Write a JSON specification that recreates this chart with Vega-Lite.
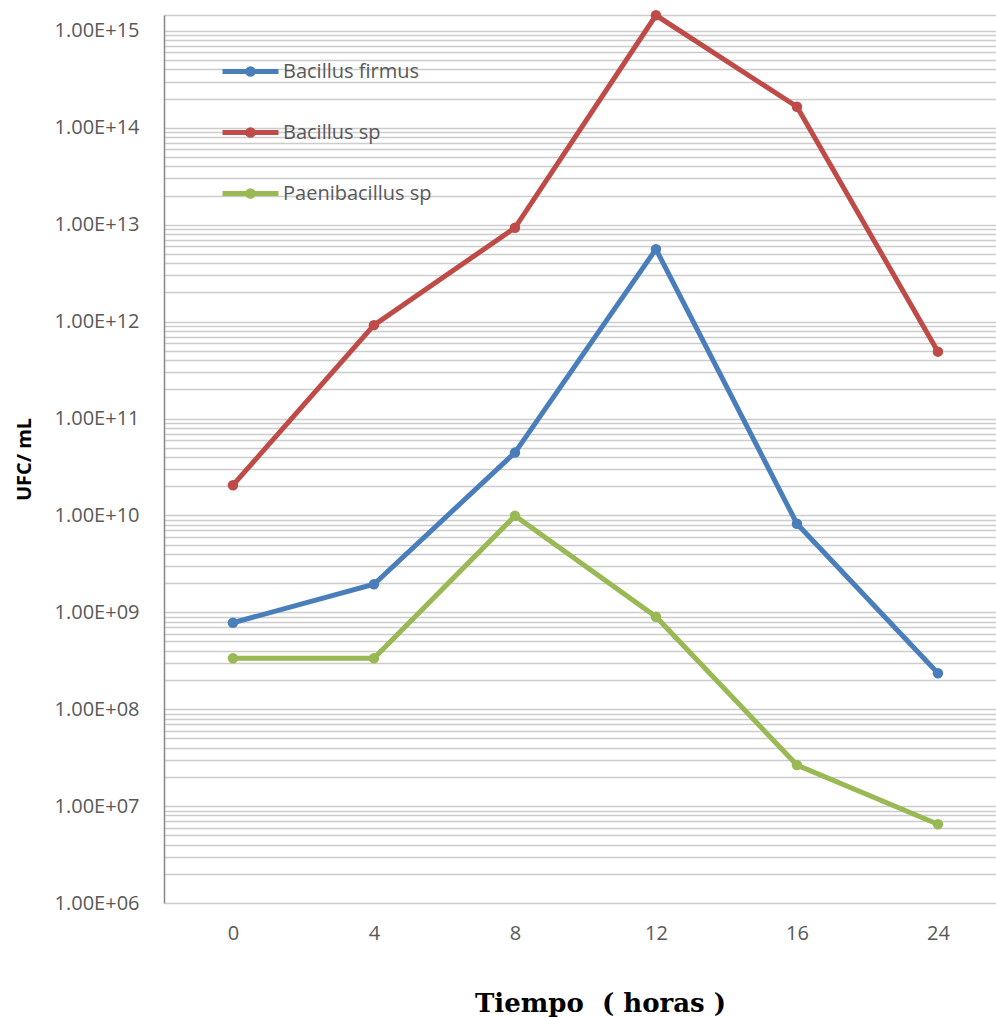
{
  "$schema": "https://vega.github.io/schema/vega-lite/v6.json",
  "width": 832,
  "height": 888,
  "autosize": {"type": "none"},
  "padding": {"left": 164, "top": 15, "right": 0, "bottom": 114},
  "background": "white",
  "config": {"view": {"stroke": null}, "font": "Open Sans"},
  "data": {
    "values": [
      {"hora": 0, "especie": "Bacillus firmus", "ufc": 7.8e8},
      {"hora": 4, "especie": "Bacillus firmus", "ufc": 1.95e9},
      {"hora": 8, "especie": "Bacillus firmus", "ufc": 4.45e10},
      {"hora": 12, "especie": "Bacillus firmus", "ufc": 5.6e12},
      {"hora": 16, "especie": "Bacillus firmus", "ufc": 8.2e9},
      {"hora": 24, "especie": "Bacillus firmus", "ufc": 2.35e8},
      {"hora": 0, "especie": "Bacillus sp", "ufc": 2.05e10},
      {"hora": 4, "especie": "Bacillus sp", "ufc": 9.2e11},
      {"hora": 8, "especie": "Bacillus sp", "ufc": 9.3e12},
      {"hora": 12, "especie": "Bacillus sp", "ufc": 1.45e15},
      {"hora": 16, "especie": "Bacillus sp", "ufc": 1.65e14},
      {"hora": 24, "especie": "Bacillus sp", "ufc": 4.9e11},
      {"hora": 0, "especie": "Paenibacillus sp", "ufc": 3.35e8},
      {"hora": 4, "especie": "Paenibacillus sp", "ufc": 3.35e8},
      {"hora": 8, "especie": "Paenibacillus sp", "ufc": 9.9e9},
      {"hora": 12, "especie": "Paenibacillus sp", "ufc": 9.0e8},
      {"hora": 16, "especie": "Paenibacillus sp", "ufc": 2.65e7},
      {"hora": 24, "especie": "Paenibacillus sp", "ufc": 6.5e6}
    ]
  },
  "mark": {"type": "line", "strokeWidth": 5, "point": {"size": 110, "filled": true}},
  "encoding": {
    "x": {
      "field": "hora",
      "type": "ordinal",
      "scale": {"type": "point", "padding": 0.4504, "align": 0.543},
      "axis": {
        "title": "Tiempo\u00a0\u00a0(\u00a0horas\u00a0)",
        "labelAngle": 0,
        "domain": false,
        "ticks": false,
        "grid": false,
        "labelFont": "Open Sans",
        "labelFontSize": 20,
        "labelColor": "#595959",
        "labelPadding": 20,
        "titleFont": "DejaVu Serif",
        "titleFontSize": 26,
        "titleFontWeight": "bold",
        "titleColor": "#000000",
        "titleX": 436,
        "titleY": 100,
        "titleAlign": "center",
        "titleBaseline": "middle"
      }
    },
    "y": {
      "field": "ufc",
      "type": "quantitative",
      "scale": {"type": "log", "domain": [1e6, 1.46e15], "nice": false},
      "axis": {
        "title": "UFC/ mL",
        "values": [1e6, 2e6, 3e6, 4e6, 5e6, 6e6, 7e6, 8e6, 9e6,
                   1e7, 2e7, 3e7, 4e7, 5e7, 6e7, 7e7, 8e7, 9e7,
                   1e8, 2e8, 3e8, 4e8, 5e8, 6e8, 7e8, 8e8, 9e8,
                   1e9, 2e9, 3e9, 4e9, 5e9, 6e9, 7e9, 8e9, 9e9,
                   1e10, 2e10, 3e10, 4e10, 5e10, 6e10, 7e10, 8e10, 9e10,
                   1e11, 2e11, 3e11, 4e11, 5e11, 6e11, 7e11, 8e11, 9e11,
                   1e12, 2e12, 3e12, 4e12, 5e12, 6e12, 7e12, 8e12, 9e12,
                   1e13, 2e13, 3e13, 4e13, 5e13, 6e13, 7e13, 8e13, 9e13,
                   1e14, 2e14, 3e14, 4e14, 5e14, 6e14, 7e14, 8e14, 9e14,
                   1e15, 1.46e15],
        "labelExpr": "abs(log(datum.value)/LN10 - round(log(datum.value)/LN10)) < 0.001 ? '1.00E+' + (round(log(datum.value)/LN10) < 10 ? '0' : '') + round(log(datum.value)/LN10) : ''",
        "grid": true,
        "gridColor": "#cccccc",
        "gridWidth": 1.5,
        "ticks": false,
        "domain": true,
        "domainColor": "#888888",
        "domainWidth": 1.5,
        "labelFont": "Open Sans",
        "labelFontSize": 20,
        "labelColor": "#595959",
        "labelPadding": 25,
        "labelOverlap": false,
        "labelFlush": false,
        "titleFont": "Open Sans",
        "titleFontSize": 20,
        "titleFontWeight": "bold",
        "titleColor": "#000000",
        "titleX": -140,
        "titleY": 444,
        "titleAlign": "center",
        "titleBaseline": "middle",
        "titleAngle": -90
      }
    },
    "color": {
      "field": "especie",
      "type": "nominal",
      "scale": {
        "domain": ["Bacillus firmus", "Bacillus sp", "Paenibacillus sp"],
        "range": ["#4a7ebb", "#be4b48", "#98b954"]
      },
      "legend": {
        "title": null,
        "orient": "none",
        "legendX": 56,
        "legendY": 26,
        "symbolType": "M-1,0H1M0.1,0A0.1,0.1,0,1,1,-0.1,0A0.1,0.1,0,1,1,0.1,0",
        "symbolSize": 3136,
        "symbolStrokeWidth": 5,
        "labelFont": "Open Sans",
        "labelFontSize": 20,
        "labelColor": "#595959",
        "labelOffset": 2,
        "rowPadding": 17,
        "padding": 0,
        "encode": {
          "symbols": {
            "update": {
              "fill": {"scale": "color", "field": "value"},
              "stroke": {"scale": "color", "field": "value"},
              "opacity": {"value": 1}
            }
          }
        }
      }
    }
  }
}
